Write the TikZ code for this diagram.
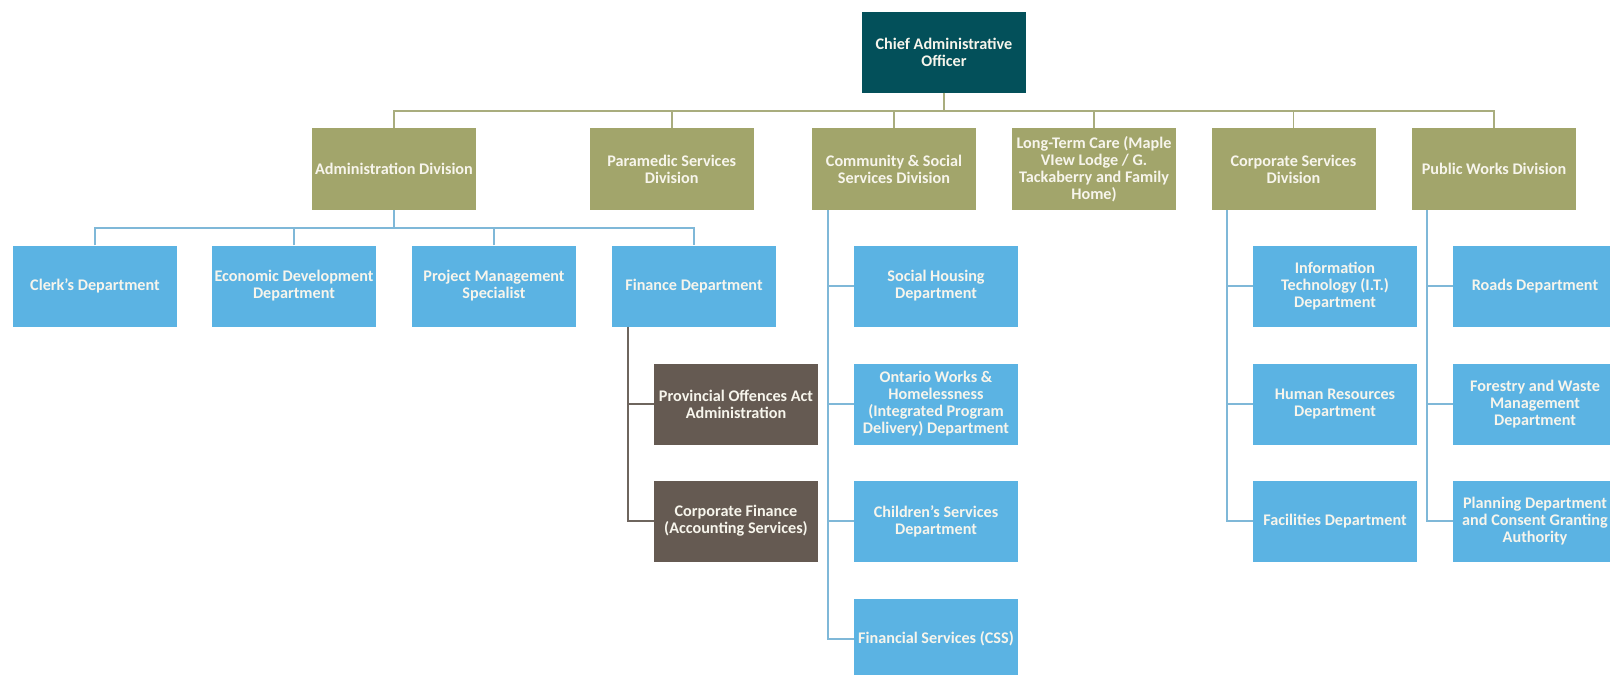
\documentclass[tikz,border=0pt]{standalone}
\usepackage{fontspec}
\setmainfont{Carlito}
\definecolor{caoC}{HTML}{03505A}
\definecolor{oliveC}{HTML}{A2A56B}
\definecolor{blueC}{HTML}{5BB3E3}
\definecolor{brownC}{HTML}{655A52}
\definecolor{olineC}{HTML}{A9AD7E}
\definecolor{blineC}{HTML}{7FB8D8}
\definecolor{flineC}{HTML}{6E655E}
\definecolor{txtC}{HTML}{F7F5EC}
\tikzset{
  box/.style={rectangle, inner sep=0pt, minimum width=164pt, minimum height=81pt,
    align=center, text=txtC, font=\fontsize{16.2}{17}\selectfont\bfseries},
  caobox/.style={box, fill=caoC},
  divbox/.style={box, fill=oliveC, minimum height=82pt},
  deptbox/.style={box, fill=blueC},
  subbox/.style={box, fill=brownC},
  oline/.style={draw=olineC, line width=1.8pt},
  bline/.style={draw=blineC, line width=1.8pt},
  fline/.style={draw=flineC, line width=1.8pt},
}
\begin{document}
\begin{tikzpicture}[x=1pt,y=-1pt]
\path[use as bounding box, clip] (0,0) rectangle (1610,675);
\fill[white] (0,0) rectangle (1610,675);
% nodes
\node[caobox] (cao) at (944,52) {Chief Administrative\\Officer};
\node[divbox] (admin) at (394,169) {Administration Division};
\node[divbox] (para) at (671.7,169) {Paramedic Services\\Division};
\node[divbox] (comm) at (894,169) {Community \& Social\\Services Division};
\node[divbox] (ltc) at (1094,169) {Long-Term Care (Maple\\VIew Lodge / G.\\Tackaberry and Family\\Home)};
\node[divbox] (corp) at (1293.5,169) {Corporate Services\\Division};
\node[divbox] (pw) at (1494,169) {Public Works Division};
\node[deptbox] (clerk) at (95,286) {Clerk’s Department};
\node[deptbox] (econ) at (294,286) {Economic Development\\Department};
\node[deptbox] (pm) at (494,286) {Project Management\\Specialist};
\node[deptbox] (fin) at (694,286) {Finance Department};
\node[subbox] (poa) at (736,404) {Provincial Offences Act\\Administration};
\node[subbox] (cfin) at (736,521) {Corporate Finance\\(Accounting Services)};
\node[deptbox] (soc) at (936,286) {Social Housing\\Department};
\node[deptbox] (ow) at (936,404) {Ontario Works \&\\Homelessness\\(Integrated Program\\Delivery) Department};
\node[deptbox] (child) at (936,521) {Children’s Services\\Department};
\node[deptbox] (css) at (936,639) {Financial Services (CSS)};
\node[deptbox] (it) at (1335,286) {Information\\Technology (I.T.)\\Department};
\node[deptbox] (hr) at (1335,404) {Human Resources\\Department};
\node[deptbox] (fac) at (1335,521) {Facilities Department};
\node[deptbox] (roads) at (1535,286) {Roads Department};
\node[deptbox] (forest) at (1535,404) {Forestry and Waste\\Management\\Department};
\node[deptbox] (plan) at (1535,521) {Planning Department\\and Consent Granting\\Authority};
% top bus
\coordinate (bus) at (0,111);
\draw[oline] (cao.south) -- (cao.south |- bus);
\draw[oline] (admin.north) -- (admin.north |- bus) -- (pw.north |- bus) -- (pw.north);
\foreach \n in {para,comm,ltc,corp} \draw[oline] (\n.north) -- (\n.north |- bus);
% admin bus
\coordinate (abus) at (0,228);
\draw[bline] (admin.south) -- (admin.south |- abus);
\draw[bline] (clerk.north) -- (clerk.north |- abus) -- (fin.north |- abus) -- (fin.north);
\foreach \n in {econ,pm} \draw[bline] (\n.north) -- (\n.north |- abus);
% community
\coordinate (cv) at ([xshift=16pt]comm.south west);
\draw[bline] (cv) |- (css.west);
\foreach \n in {soc,ow,child} \draw[bline] (cv |- \n.west) -- (\n.west);
% finance
\coordinate (fv) at ([xshift=16pt]fin.south west);
\draw[fline] (fv) |- (cfin.west);
\draw[fline] (fv |- poa.west) -- (poa.west);
% corporate
\coordinate (kv) at ([xshift=16pt]corp.south west);
\draw[bline] (kv) |- (fac.west);
\foreach \n in {it,hr} \draw[bline] (kv |- \n.west) -- (\n.west);
% public works
\coordinate (wv) at ([xshift=15pt]pw.south west);
\draw[bline] (wv) |- (plan.west);
\foreach \n in {roads,forest} \draw[bline] (wv |- \n.west) -- (\n.west);
\end{tikzpicture}
\end{document}
